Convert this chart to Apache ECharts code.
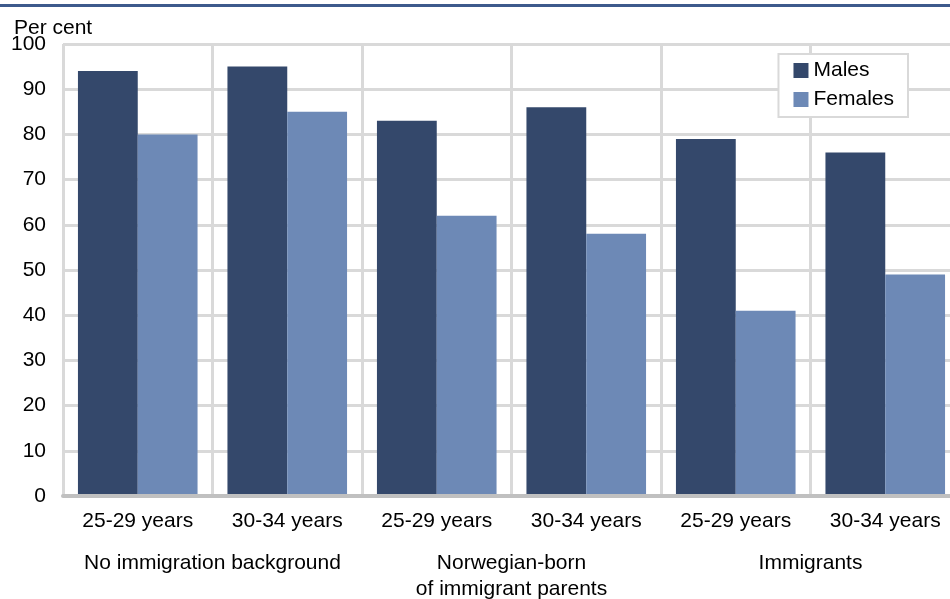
<!DOCTYPE html>
<html>
<head>
<meta charset="utf-8">
<script src="https://cdn.jsdelivr.net/npm/echarts@6/dist/echarts.min.js"></script>
<style>html,body{margin:0;padding:0;background:#fff;overflow:hidden;}#c{width:950px;height:599px;}</style>
</head>
<body>
<div id="c"></div>
<script>
var categories = ['25-29 years', '30-34 years', '25-29 years', '30-34 years', '25-29 years', '30-34 years'];
var groups = ['No immigration background', 'Norwegian-born\nof immigrant parents', 'Immigrants'];
var males = [94, 95, 83, 86, 79, 76];
var females = [80, 85, 62, 58, 41, 49];
var yTicks = [0, 10, 20, 30, 40, 50, 60, 70, 80, 90, 100];

var font = 'Liberation Sans, Arial, sans-serif';
var chart = echarts.init(document.getElementById('c'), null, {renderer: 'canvas'});
chart.setOption({
  animation: false,
  backgroundColor: '#fff',
  title: {
    text: 'Per cent', left: 9, top: 13,
    textStyle: {fontFamily: font, fontSize: 21, fontWeight: 'normal', color: '#000'}
  },
  graphic: [{
    type: 'rect', shape: {x: 0, y: 4, width: 950, height: 3},
    style: {fill: '#3d5a8c'}, silent: true
  }],
  legend: {
    right: 42, top: 54, orient: 'vertical',
    itemWidth: 15, itemHeight: 15, itemGap: 8,
    padding: [6, 14, 7, 15],
    backgroundColor: '#fff', borderColor: '#d9d9d9', borderWidth: 2,
    textStyle: {fontFamily: font, fontSize: 21, color: '#000', width: 84},
    icon: 'rect',
    data: ['Males', 'Females']
  },
  grid: {left: 63, top: 44, width: 897, height: 452, containLabel: false, outerBoundsMode: 'none'},
  xAxis: [{
    type: 'category', data: categories, position: 'bottom',
    axisLine: {show: true, lineStyle: {color: '#c0c0c0', width: 4}},
    axisTick: {show: false},
    splitLine: {show: true, interval: 0, lineStyle: {color: '#d9d9d9', width: 3}},
    axisLabel: {interval: 0, margin: 15, fontFamily: font, fontSize: 21, color: '#000'},
    z: 3
  }, {
    type: 'category', data: groups, position: 'bottom',
    axisLine: {show: false}, axisTick: {show: false}, splitLine: {show: false},
    axisLabel: {interval: 0, margin: 54, fontFamily: font, fontSize: 21, color: '#000', lineHeight: 26, verticalAlign: 'top'}
  }],
  yAxis: {
    type: 'value', min: 0, max: 100, interval: 10,
    axisLine: {show: false}, axisTick: {show: false},
    splitLine: {show: true, lineStyle: {color: '#d9d9d9', width: 3}},
    axisLabel: {
      margin: 17, fontFamily: font, fontSize: 21, color: '#000',
      formatter: function (v) { return yTicks.indexOf(v) >= 0 ? String(v) : ''; }
    }
  },
  series: [{
    name: 'Males', type: 'bar', data: males, xAxisIndex: 0,
    barGap: '0%', barCategoryGap: '20%',
    itemStyle: {color: '#34486b'}, z: 2
  }, {
    name: 'Females', type: 'bar', data: females, xAxisIndex: 0,
    barGap: '0%', barCategoryGap: '20%',
    itemStyle: {color: '#6d89b6'}, z: 2
  }]
});
</script>
</body>
</html>
